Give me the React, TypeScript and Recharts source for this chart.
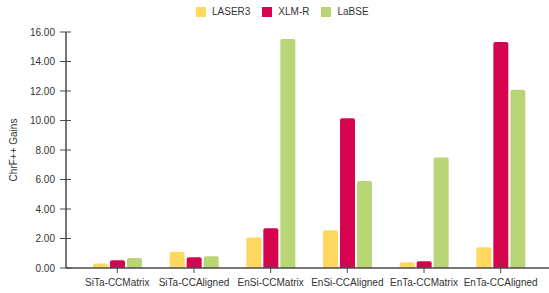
import React from 'react';
import { BarChart, Bar, XAxis, YAxis } from 'recharts';

const categories = ['SiTa-CCMatrix', 'SiTa-CCAligned', 'EnSi-CCMatrix', 'EnSi-CCAligned', 'EnTa-CCMatrix', 'EnTa-CCAligned'];
const laser3 = [0.3, 1.09, 2.07, 2.56, 0.39, 1.41];
const xlmr = [0.52, 0.73, 2.7, 10.16, 0.45, 15.32];
const labse = [0.68, 0.79, 15.53, 5.89, 7.5, 12.08];
const yTicks = [0, 2, 4, 6, 8, 10, 12, 14, 16];
const seriesNames = ['LASER3', 'XLM-R', 'LaBSE'];

const data = categories.map((c, i) => ({ name: c, LASER3: laser3[i], 'XLM-R': xlmr[i], LaBSE: labse[i] }));

const AXIS_COLOR = '#4a4a4a';
const TEXT_COLOR = '#333333';
const FONT = "'Liberation Sans', Arial, sans-serif";
const Y_AXIS_X = 66;
const X_AXIS_Y = 268;

const YTick = (props: any) => {
  const { y, payload } = props;
  return (
    <g>
      <line x1={Y_AXIS_X - 6} x2={Y_AXIS_X + 5} y1={y} y2={y} stroke={AXIS_COLOR} strokeWidth={1} />
      <text x={Y_AXIS_X - 11} y={y} dy={3.5} textAnchor="end" fontSize={10} fill={TEXT_COLOR} fontFamily={FONT}>
        {Number(payload.value).toFixed(2)}
      </text>
    </g>
  );
};

const XTick = (props: any) => {
  const { x, payload } = props;
  return (
    <g>
      <line x1={x} x2={x} y1={X_AXIS_Y - 5} y2={X_AXIS_Y + 5} stroke={AXIS_COLOR} strokeWidth={1} />
      <text x={x} y={X_AXIS_Y + 18} textAnchor="middle" fontSize={10} fill={TEXT_COLOR} fontFamily={FONT}>
        {payload.value}
      </text>
    </g>
  );
};

const colors: Record<string, string> = { LASER3: '#FED85F', 'XLM-R': '#D6044F', LaBSE: '#B8D676' };

export default function App() {
  return (
    <div style={{ position: 'absolute', left: 0, top: 0, width: 549, height: 293, background: '#fff' }}>
      <div style={{ position: 'absolute', left: 196, top: 6, display: 'flex', alignItems: 'center', fontFamily: FONT, fontSize: 10, color: TEXT_COLOR, whiteSpace: 'nowrap', zIndex: 2 }}>
        {seriesNames.map((k) => (
          <div key={k} style={{ display: 'flex', alignItems: 'center', marginRight: 12 }}>
            <div style={{ width: 10, height: 10, background: colors[k], marginRight: 6 }} />
            <span>{k}</span>
          </div>
        ))}
      </div>
      <BarChart
        width={549}
        height={293}
        data={data}
        margin={{ top: 32, right: 0, bottom: 0, left: 0 }}
        barSize={15}
        barGap={2}
      >
        <YAxis
          width={66}
          domain={[0, 16]}
          ticks={yTicks}
          interval={0}
          axisLine={{ stroke: AXIS_COLOR, strokeWidth: 1.5 }}
          tickLine={false}
          tick={<YTick />}
          label={{ value: 'ChrF++ Gains', angle: -90, position: 'insideLeft', dx: 8, style: { fontSize: 10, fill: TEXT_COLOR, fontFamily: FONT, textAnchor: 'middle' } }}
        />
        <Bar dataKey="LASER3" fill={colors.LASER3} radius={[2, 2, 0, 0]} isAnimationActive={false} />
        <Bar dataKey="XLM-R" fill={colors['XLM-R']} radius={[2, 2, 0, 0]} isAnimationActive={false} />
        <Bar dataKey="LaBSE" fill={colors.LaBSE} radius={[2, 2, 0, 0]} isAnimationActive={false} />
        <XAxis
          dataKey="name"
          height={25}
          padding={{ left: 13, right: 10 }}
          axisLine={{ stroke: AXIS_COLOR, strokeWidth: 1.5 }}
          tickLine={false}
          interval={0}
          tick={<XTick />}
        />
      </BarChart>
    </div>
  );
}
